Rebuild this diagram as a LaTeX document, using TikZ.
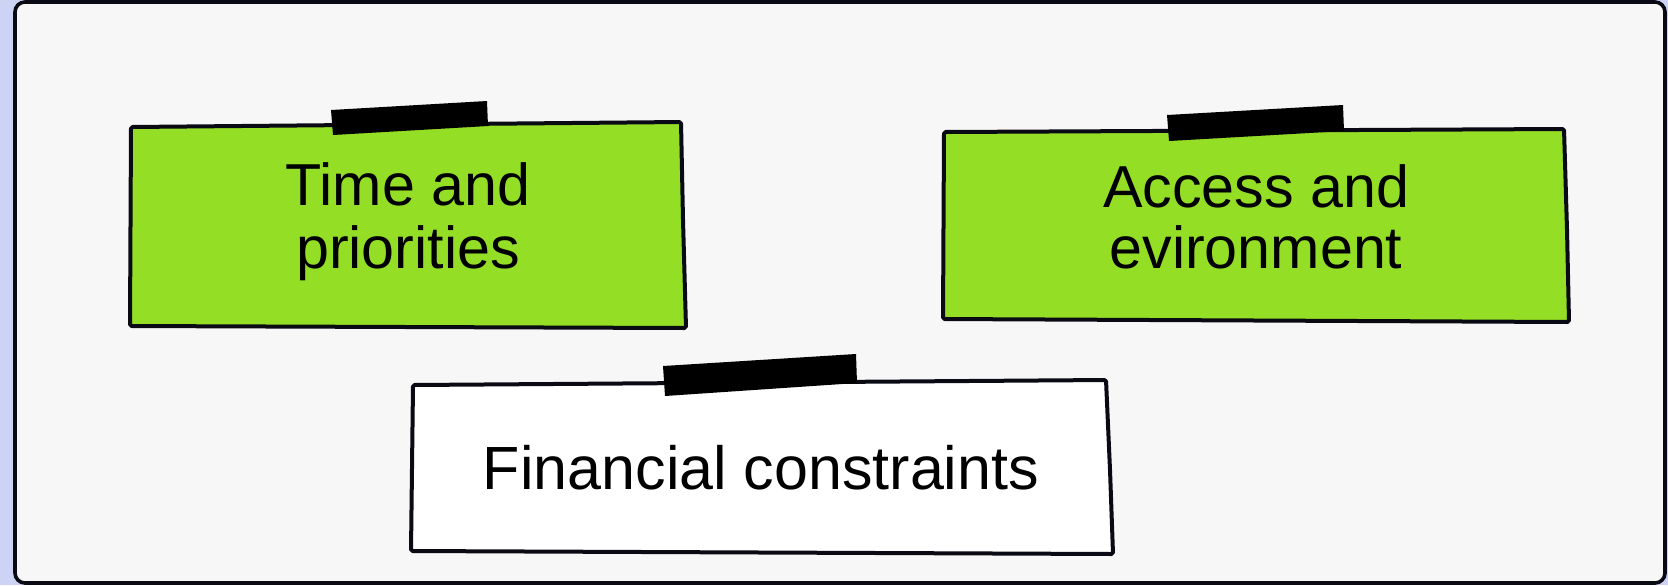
\documentclass[tikz,border=0pt]{standalone}
\usepackage{fontspec}
\setmainfont{Liberation Sans}
\definecolor{lav}{HTML}{CDD3F5}
\definecolor{panel}{HTML}{F7F7F7}
\definecolor{leaf}{HTML}{94DE26}
\definecolor{ink}{HTML}{0A0A14}
\tikzset{
  card/.style={draw=ink, line width=2pt, line join=round, rounded corners=0.8pt},
  tape/.style={fill=black, draw=none},
  lbl/.style={anchor=base, inner sep=0pt, text=black, font=\fontsize{29.6}{31}\selectfont},
  lblwide/.style={lbl, font=\fontsize{30.5}{32}\selectfont},
}
\begin{document}
\begin{tikzpicture}[x=0.5pt,y=-0.5pt]
\useasboundingbox (0,0) rectangle (1668,585);
\fill[lav] (0,0) rectangle (1668,585);
\draw[fill=panel, draw=ink, line width=1.8pt, rounded corners=5pt] (15,2) rectangle (1665,583);

% Box 1
\draw[card, fill=leaf] (131,127) -- (681,122) -- (683,220) -- (686,328) -- (130,326) -- cycle;
\fill[tape] (331,110) -- (487,101) -- (488,126) -- (333,135) -- cycle;
\node[lbl] (t1a) at (408,205) {Time and};
\node[lbl] (t1b) at (408,268) {priorities};

% Box 2
\draw[card, fill=leaf] (944,132) -- (1564,129) -- (1567,230) -- (1569,322) -- (943,319) -- cycle;
\fill[tape] (1167,115) -- (1343,105) -- (1344,131) -- (1169,141) -- cycle;
\node[lbl] (t2a) at (1256,207) {Access and};
\node[lbl] (t2b) at (1256,268) {evironment};

% Box 3
\draw[card, fill=white] (413,385) -- (1106,380) -- (1110,470) -- (1113,554) -- (411,551) -- cycle;
\fill[tape] (663,366) -- (856,354) -- (857,383) -- (665,396) -- cycle;
\node[lblwide] (t3) at (761,489) {Financial constraints};
\end{tikzpicture}
\end{document}
